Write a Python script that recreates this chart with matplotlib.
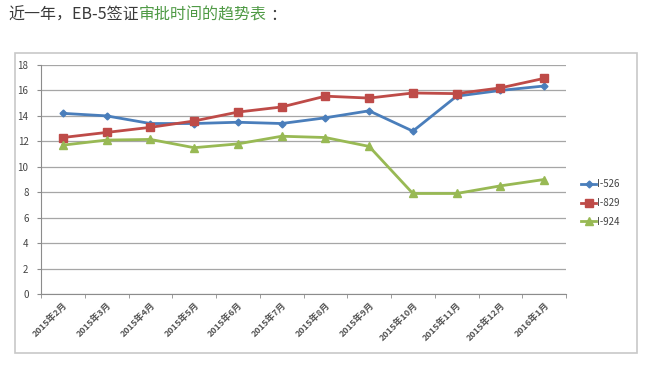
import numpy as np
import matplotlib
matplotlib.use("Agg")
import matplotlib.pyplot as plt
from matplotlib.patches import Rectangle

plt.rcParams['font.family'] = ['Noto Sans CJK SC', 'DejaVu Sans']

months = ["2015年2月", "2015年3月", "2015年4月", "2015年5月", "2015年6月", "2015年7月",
          "2015年8月", "2015年9月", "2015年10月", "2015年11月", "2015年12月", "2016年1月"]
i526 = [14.2, 14.0, 13.4, 13.4, 13.5, 13.4, 13.85, 14.4, 12.8, 15.55, 16.0, 16.35]
i829 = [12.3, 12.7, 13.1, 13.6, 14.3, 14.7, 15.55, 15.4, 15.8, 15.75, 16.2, 16.95]
i924 = [11.7, 12.1, 12.15, 11.5, 11.8, 12.4, 12.3, 11.6, 7.9, 7.9, 8.5, 9.0]
yticks = list(range(0, 19, 2))

W, H = 650, 371
fig = plt.figure(figsize=(6.5, 3.71), dpi=100)

# title line, part gray and part green, laid out piece after piece
renderer = fig.canvas.get_renderer()
xpos = 8 / W
for txt, col, gap in [("近一年，EB-5签证", "#3a3a3a", 0), ("审批时间的趋势表", "#4f9a45", 4),
                      ("：", "#3a3a3a", 0)]:
    t = fig.text(xpos, 1 - 15 / H, txt, fontsize=11.5, color=col, va="center")
    bb = t.get_window_extent(renderer)
    xpos = (bb.x1 + gap) / W

# chart frame
fig.patches.append(Rectangle((15 / W, 1 - 353 / H), 622 / W, 300 / H, transform=fig.transFigure,
                             fill=False, edgecolor="#c8c8c8", lw=1.2))

ax = fig.add_axes([41 / W, 1 - 294 / H, 525 / W, 229 / H])
x = np.arange(len(months))
ax.plot(x, i526, color="#4a7ebb", lw=2, marker="D", ms=3.5, label="I-526")
ax.plot(x, i829, color="#be4b48", lw=2, marker="s", ms=5.5, label="I-829")
ax.plot(x, i924, color="#98b954", lw=2, marker="^", ms=5.5, label="I-924")

ax.set_xlim(-0.5, len(months) - 0.5)
ax.set_ylim(0, 18)
ax.set_yticks(yticks)
ax.yaxis.grid(True, color="#a6a6a6", lw=0.9)
ax.set_axisbelow(True)
for s in ("top", "right"):
    ax.spines[s].set_visible(False)
for s in ("left", "bottom"):
    ax.spines[s].set_color("#8c8c8c")

ax.set_xticks(x)
ax.set_xticklabels(months, rotation=45, ha="right", va="top", rotation_mode="anchor",
                   fontsize=6.5, color="#555555", fontweight="bold")
ax.tick_params(axis="x", length=0, pad=5)
ax.set_xticks(np.arange(-0.5, len(months)), minor=True)
ax.tick_params(axis="x", which="minor", length=3, color="#8c8c8c")
ax.tick_params(axis="y", length=3, color="#8c8c8c", labelsize=7, labelcolor="#444444", pad=6)

ax.legend(loc="center left", bbox_to_anchor=(577 / W, 1 - 203 / H), bbox_transform=fig.transFigure,
          frameon=False, fontsize=7, handlelength=1.6, handletextpad=0.1, labelspacing=0.9,
          labelcolor="#444444", borderaxespad=0)

fig.savefig("out.png", dpi=100)
